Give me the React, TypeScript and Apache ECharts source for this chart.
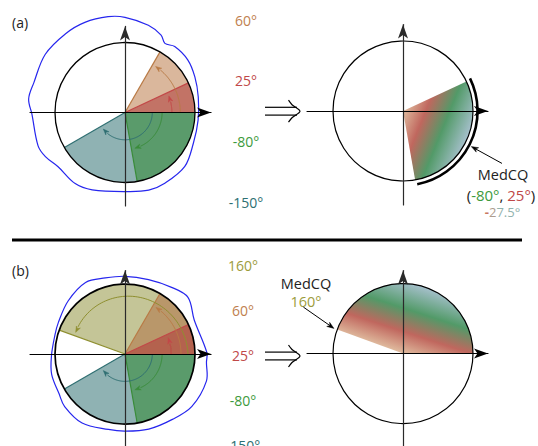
import React, { useEffect, useRef } from "react";
import * as echarts from "echarts";

// ---------------- data ----------------
// panel (a): contributing angles (degrees), in drawing order
const anglesA = [60, 25, -150, -80];
const fillsA = ["#dab79c", "#c27366", "#8fb2b3", "#5a9b6b"];
const edgesA = ["#b97a45", "#c24848", "#2f6f72", "#3a8c3a"];
// panel (b)
const anglesB = [160, 60, 25, -150, -80];
const fillsB = ["#c4c597", "#b9976a", "#b4624e", "#8fb2b3", "#5a9b6b"];
const edgesB = ["#8f8f30", "#b97a45", "#c24848", "#2f6f72", "#3a8c3a"];

// label column (degrees)
const labelAnglesA = [60, 25, -80, -150];
const labelColorsA = ["#c0804e", "#c04848", "#3d9a3d", "#2d7072"];
const labelAnglesB = [160, 60, 25, -80, -150];
const labelColorsB = ["#9c9c3c", "#c0804e", "#c04848", "#3d9a3d", "#2d7072"];

// blue outline (angle in degrees, radius in circle radii)
const blobAngA = [-179, -159, -151, -141, -125, -113, -88, -73, -61, -42, -24, -6, 12, 27, 40, 53, 60, 65, 75, 90, 100, 114, 127, 144, 162, 172];
const blobRadA = [1.33, 1.33, 1.3, 1.23, 1.24, 1.2, 1.13, 1.16, 1.16, 1.15, 1.07, 1.05, 1.07, 1.12, 1.17, 1.18, 1.14, 1.22, 1.29, 1.36, 1.39, 1.41, 1.41, 1.41, 1.37, 1.39];
const blobAngB = [-179, -164, -148, -138, -121, -102, -90, -73, -55, -39, -19, -6, 1, 27, 43, 56, 73, 90, 104, 118, 136, 154, 164];
const blobRadB = [1.05, 1.09, 1.11, 1.16, 1.19, 1.14, 1.14, 1.16, 1.18, 1.23, 1.23, 1.17, 1.17, 1.11, 1.23, 1.19, 1.15, 1.15, 1.16, 1.2, 1.13, 1.06, 1.04];

// median circular quantile results
const rangeA = [-80, 25];
const medianA = -27.5;
const rangeB = [0, 160];
const medianB = 160;

// ---------------- layout / style ----------------
const R = 70;
const deg = Math.PI / 180;
const FONT = '"Open Sans", "Noto Sans", sans-serif';
const arcRA = [[0.79, 0.79], [0.67, 0.67], [0.39, 0.39], [0.53, 0.53]];
const arcRB = [[0.9, 0.77], [0.8, 0.8], [0.66, 0.66], [0.39, 0.39], [0.53, 0.53]];
const gradStops = [
  { offset: 0, color: "#e0bc9f" },
  { offset: 0.3, color: "#c0675e" },
  { offset: 0.62, color: "#529a68" },
  { offset: 1, color: "#a6c0cc" },
];

const panels = [
  { c: [125, 112.5], xr: [-1.357, 1.229], yr: [-1.336, 1.229] },
  { c: [403, 111], xr: [-1.371, 1.214], yr: [-1.343, 1.236] },
  { c: [125, 357], xr: [-1.357, 1.229], yr: [-1.36, 1.236] },
  { c: [403, 356], xr: [-1.371, 1.214], yr: [-1.36, 1.221] },
];

function pol(c: number[], rad: number, phi: number) {
  return [c[0] + rad * Math.cos(phi), c[1] - rad * Math.sin(phi)];
}

function arrowHead(tip: number[], base: number[], w: number, color: string, z2: number) {
  const dx = tip[0] - base[0], dy = tip[1] - base[1];
  const L = Math.hypot(dx, dy) || 1;
  const ux = dx / L, uy = dy / L;
  const nx = -uy, ny = ux;
  return {
    type: "polygon",
    z2,
    shape: {
      points: [
        tip,
        [base[0] + nx * w / 2, base[1] + ny * w / 2],
        [base[0] + ux * L * 0.3, base[1] + uy * L * 0.3],
        [base[0] - nx * w / 2, base[1] - ny * w / 2],
      ],
    },
    style: { fill: color, stroke: color, lineWidth: 0.5 },
  };
}

function sectorSeries(gi: number, angles: number[], fills: string[], edges: string[], arcR: number[][]) {
  return {
    type: "custom",
    xAxisIndex: gi,
    yAxisIndex: gi,
    z: 2,
    clip: false,
    data: angles.map((a) => [a, 0]),
    renderItem: (params: any, api: any) => {
      const i = params.dataIndex;
      const a = api.value(0);
      const c = api.coord([0, 0]);
      const r = api.size([1, 1])[0];
      const lo = Math.min(0, a), hi = Math.max(0, a);
      const children: any[] = [];
      children.push({
        type: "sector",
        z2: i,
        shape: { cx: c[0], cy: c[1], r, r0: 0, startAngle: -hi * deg, endAngle: -lo * deg, clockwise: true },
        style: { fill: fills[i] },
      });
      const e = pol(c, r, a * deg);
      children.push({
        type: "line",
        z2: 40,
        shape: { x1: c[0], y1: c[1], x2: e[0], y2: e[1] },
        style: { stroke: edges[i], lineWidth: 1.2 },
      });
      // angle arc with arrow
      const r0 = arcR[i][0] * r, r1 = arcR[i][1] * r;
      const sgn = a >= 0 ? 1 : -1;
      const phiTip = a * deg - sgn * (3.5 / r1);
      const phiBase = phiTip - sgn * (6 / r1);
      const pts: number[][] = [];
      const N = 60;
      for (let k = 0; k <= N; k++) {
        const t = k / N;
        const phi = phiBase * t;
        const rr = r0 + (r1 - r0) * (phi / phiTip);
        pts.push(pol(c, rr, phi));
      }
      children.push({
        type: "polyline",
        z2: 60,
        shape: { points: pts },
        style: { stroke: edges[i], lineWidth: 1, fill: "none" },
      });
      children.push(arrowHead(pol(c, r1, phiTip), pol(c, r1, phiBase), 4.5, edges[i], 61));
      return { type: "group", children };
    },
  };
}

function outlineSeries(gi: number, lw: number, bAng?: number[], bRad?: number[]) {
  return {
    type: "custom",
    xAxisIndex: gi,
    yAxisIndex: gi,
    z: 3,
    clip: false,
    data: [[0, 0]],
    renderItem: (params: any, api: any) => {
      const c = api.coord([0, 0]);
      const r = api.size([1, 1])[0];
      const children: any[] = [
        { type: "circle", shape: { cx: c[0], cy: c[1], r }, style: { fill: "none", stroke: "#000", lineWidth: lw } },
      ];
      if (bAng && bRad) {
        const points = bAng.map((a, k) => api.coord([bRad[k] * Math.cos(a * deg), bRad[k] * Math.sin(a * deg)]));
        children.push({
          type: "polygon",
          shape: { points, smooth: 0.35 },
          style: { fill: "none", stroke: "#2626ee", lineWidth: 1.2 },
        });
      }
      return { type: "group", children };
    },
  };
}

function medianSeries(gi: number, range: number[], gradDeg: number, thickArc: boolean, tip: number[], tail: number[]) {
  return {
    type: "custom",
    xAxisIndex: gi,
    yAxisIndex: gi,
    z: 2,
    clip: false,
    data: [[range[0], range[1]]],
    renderItem: (params: any, api: any) => {
      const lo = api.value(0), hi = api.value(1);
      const c = api.coord([0, 0]);
      const r = api.size([1, 1])[0];
      const g = gradDeg * deg;
      const fill = new (echarts as any).graphic.LinearGradient(
        c[0], c[1], c[0] + r * Math.cos(g), c[1] - r * Math.sin(g), gradStops, true
      );
      const children: any[] = [
        {
          type: "sector",
          shape: { cx: c[0], cy: c[1], r, r0: 0, startAngle: -hi * deg, endAngle: -lo * deg, clockwise: true },
          style: { fill },
        },
      ];
      if (thickArc) {
        children.push({
          type: "arc",
          shape: { cx: c[0], cy: c[1], r: r * 1.065, startAngle: -(hi + 1) * deg, endAngle: -(lo + 1) * deg, clockwise: true },
          style: { stroke: "#000", lineWidth: 2.6, fill: "none" },
        });
      }
      const pTip = pol(c, tip[1] * r, tip[0] * deg);
      const pTail = pol(c, tail[1] * r, tail[0] * deg);
      const dx = pTip[0] - pTail[0], dy = pTip[1] - pTail[1];
      const L = Math.hypot(dx, dy);
      const base = [pTip[0] - dx / L * 7, pTip[1] - dy / L * 7];
      children.push({
        type: "line",
        shape: { x1: pTail[0], y1: pTail[1], x2: base[0] + dx / L * 2, y2: base[1] + dy / L * 2 },
        style: { stroke: "#000", lineWidth: 1 },
      });
      children.push(arrowHead(pTip, base, 5, "#000", 5));
      return { type: "group", children };
    },
  };
}

function doubleArrow(cy: number) {
  return {
    type: "group",
    children: [
      { type: "line", shape: { x1: 265, y1: cy - 3.9, x2: 297, y2: cy - 3.9 }, style: { stroke: "#000", lineWidth: 1.2 } },
      { type: "line", shape: { x1: 265, y1: cy + 3.9, x2: 297, y2: cy + 3.9 }, style: { stroke: "#000", lineWidth: 1.2 } },
      {
        type: "polyline",
        shape: { points: [[288.5, cy - 11], [292, cy - 6.5], [300, cy], [292, cy + 6.5], [288.5, cy + 11]], smooth: 0.3 },
        style: { stroke: "#000", lineWidth: 1.2, fill: "none" },
      },
    ],
  };
}

function txt(x: number, y: number, text: string, color: string, size = 14, align = "center") {
  return {
    type: "text",
    x,
    y,
    style: {
      text,
      fill: color,
      fontSize: size,
      fontFamily: FONT,
      lineHeight: size + 1,
      textAlign: align,
      textVerticalAlign: "middle",
    },
  };
}

export default function App() {
  const ref = useRef<HTMLDivElement>(null);
  useEffect(() => {
    if (!ref.current) return;
    const chart = echarts.init(ref.current, null, { renderer: "svg" });
    const grids = panels.map((p) => ({
      left: p.c[0] + p.xr[0] * R,
      top: p.c[1] - p.yr[1] * R,
      width: (p.xr[1] - p.xr[0]) * R,
      height: (p.yr[1] - p.yr[0]) * R,
      containLabel: false,
    }));
    const axisBase = (min: number, max: number, i: number, color: string, sym: number[]) => ({
      type: "value",
      gridIndex: i,
      min,
      max,
      z: 4,
      axisLine: {
        show: true,
        onZero: true,
        symbol: ["none", "arrow"],
        symbolSize: sym,
        lineStyle: { color, width: 1.2 },
      },
      axisTick: { show: false },
      axisLabel: { show: false },
      splitLine: { show: false },
    });
    const xAxis = panels.map((p, i) => axisBase(p.xr[0], p.xr[1], i, "#000", [7.5, 14]));
    const yAxis = panels.map((p, i) => axisBase(p.yr[0], p.yr[1], i, "#2a2a2a", [7.5, 14]));

    const medA = `${medianA}°`;
    const graphic: any[] = [
      txt(12, 22, "(a)", "#222", 14, "left"),
      txt(12, 270, "(b)", "#222", 14, "left"),
      { type: "rect", shape: { x: 12, y: 238.5, width: 510, height: 3 }, style: { fill: "#000" } },
      doubleArrow(111.2),
      doubleArrow(356),
      ...labelAnglesA.map((a, i) => txt(246, 20 + i * 60.7, `${a}°`, labelColorsA[i])),
      ...labelAnglesB.map((a, i) => txt(243, 265 + i * 45, `${a}°`, labelColorsB[i])),
      txt(503, 174, "MedCQ", "#222", 14.5),
      {
        type: "text",
        x: 501,
        y: 194.5,
        style: {
          text: `{k|(}{g|${rangeA[0]}°}{k|, }{r|${rangeA[1]}°}{k|)}`,
          fontSize: 15,
          fontFamily: FONT,
          lineHeight: 15,
          textAlign: "center",
          textVerticalAlign: "middle",
          rich: {
            k: { fill: "#222", color: "#222", fontSize: 15, lineHeight: 15, fontFamily: FONT },
            g: { fill: "#3d9a3d", color: "#3d9a3d", fontSize: 15, lineHeight: 15, fontFamily: FONT },
            r: { fill: "#c04848", color: "#c04848", fontSize: 15, lineHeight: 15, fontFamily: FONT },
          },
        },
      },
      {
        type: "text",
        x: 502.5,
        y: 212,
        style: {
          text: `{m|${medA.slice(0, 1)}}{p|${medA.slice(1, 2)}}{q|${medA.slice(2)}}`,
          fontSize: 13,
          fontFamily: FONT,
          lineHeight: 13,
          textAlign: "center",
          textVerticalAlign: "middle",
          rich: {
            m: { fill: "#c8765f", color: "#c8765f", fontSize: 13, lineHeight: 13, fontFamily: FONT, fontWeight: "bold" },
            p: { fill: "#ad9c8e", color: "#ad9c8e", fontSize: 13, lineHeight: 13, fontFamily: FONT },
            q: { fill: "#92b3ae", color: "#92b3ae", fontSize: 13, lineHeight: 13, fontFamily: FONT },
          },
        },
      },
      txt(306, 283, "MedCQ", "#222", 14.5),
      txt(306, 301, `${medianB}°`, "#9c9c3c", 14.5),
    ];

    chart.setOption({
      animation: false,
      backgroundColor: "#fff",
      textStyle: { fontFamily: FONT },
      grid: grids,
      xAxis,
      yAxis,
      graphic,
      series: [
        sectorSeries(0, anglesA, fillsA, edgesA, arcRA),
        outlineSeries(0, 1.3, blobAngA, blobRadA),
        medianSeries(1, rangeA, -22, true, [medianA, 1.1], [medianA - 0.4, 1.6]),
        outlineSeries(1, 1.2),
        sectorSeries(2, anglesB, fillsB, edgesB, arcRB),
        outlineSeries(2, 1.7, blobAngB, blobRadB),
        medianSeries(3, rangeB, 72, false, [medianB, 1.05], [medianB - 5, 1.57]),
        outlineSeries(3, 1.2),
      ],
    });
    return () => chart.dispose();
  }, []);
  return (
    <div
      ref={ref}
      style={{ position: "fixed", left: 0, top: 0, width: 538, height: 446, background: "#fff" }}
    />
  );
}
